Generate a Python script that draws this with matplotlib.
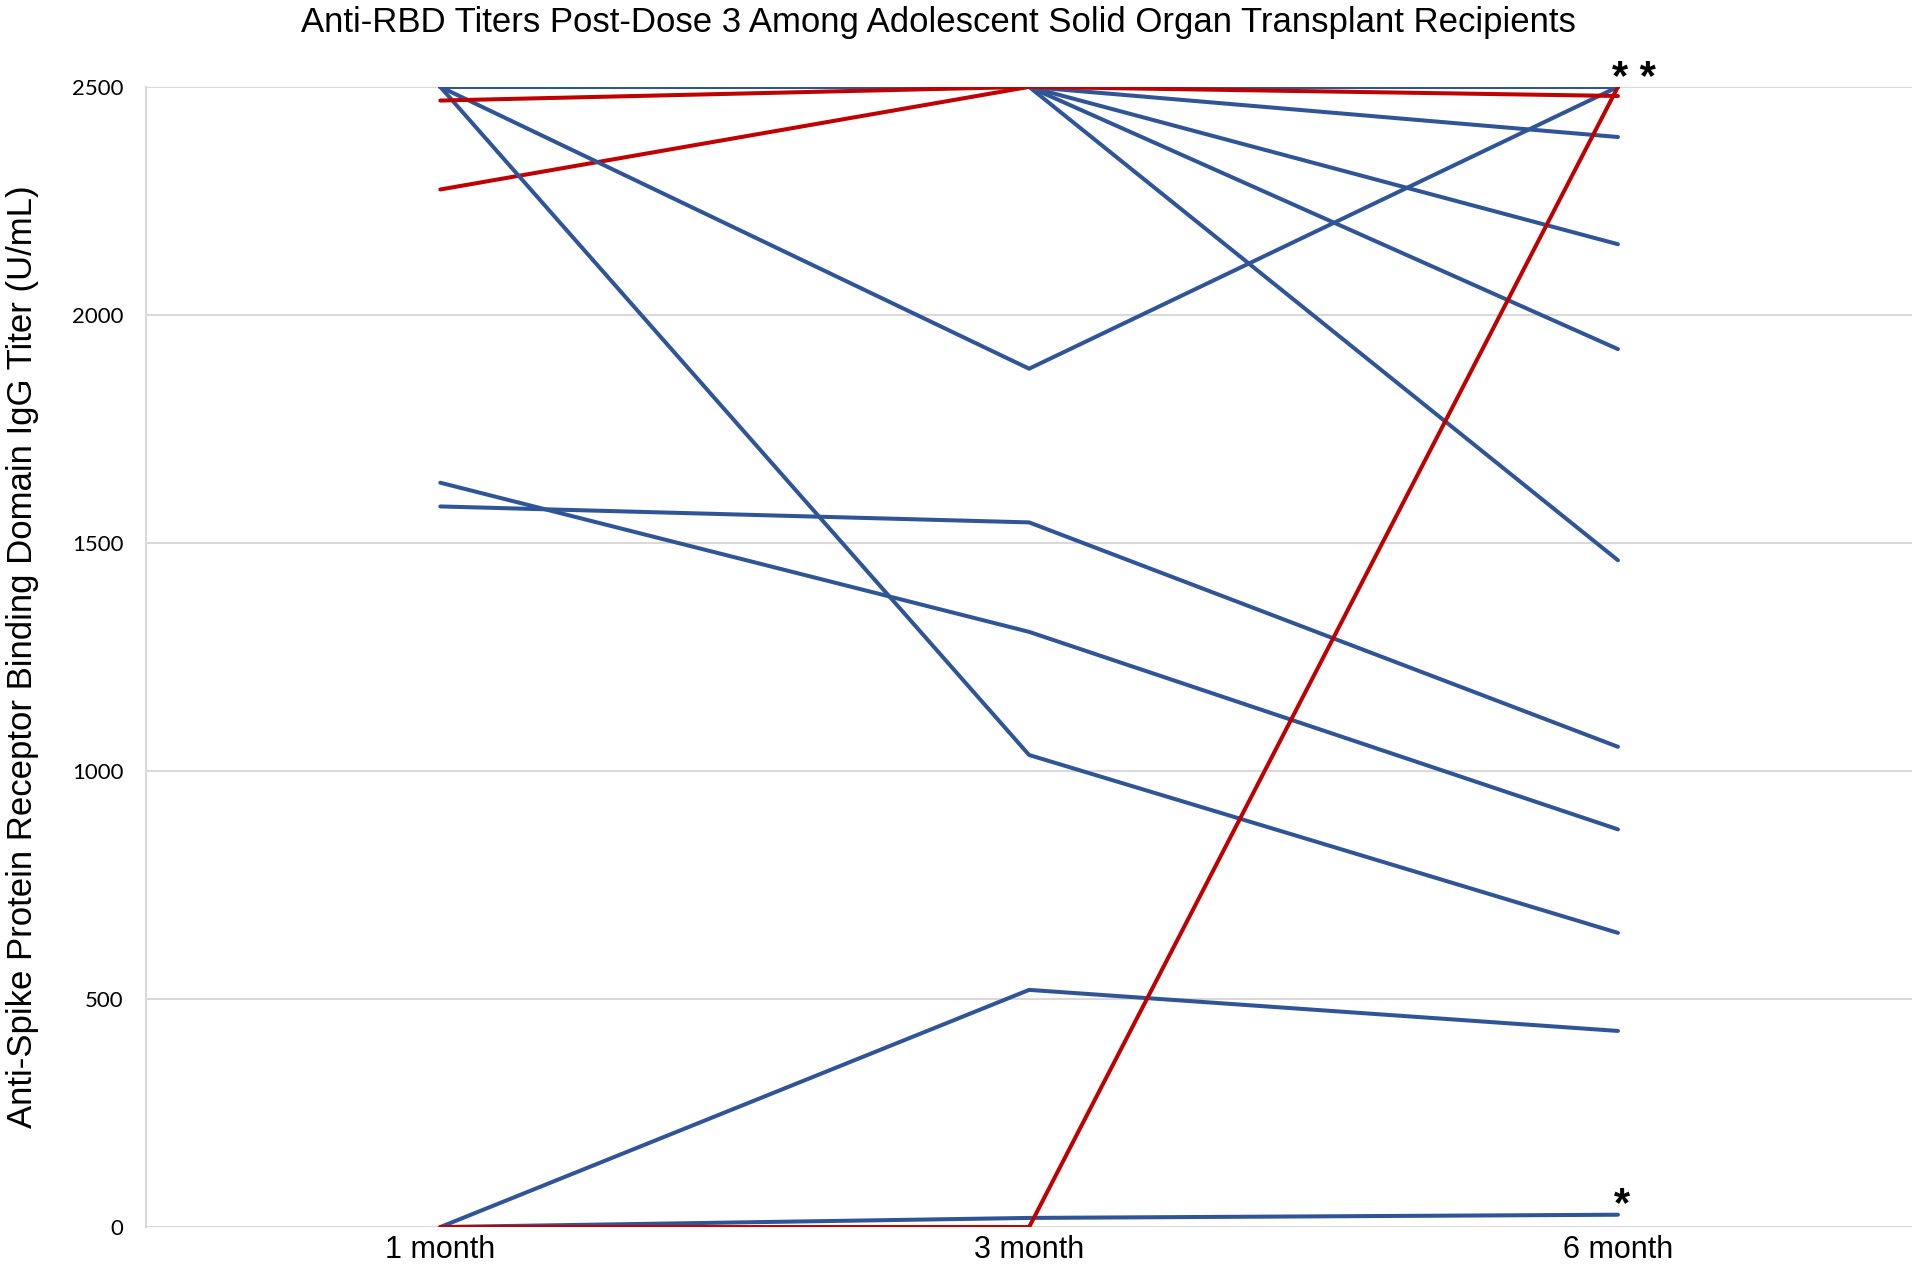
import matplotlib
matplotlib.use("Agg")
import matplotlib.pyplot as plt

# time points
timepoints = ["1 month", "3 month", "6 month"]

# titers per patient (U/mL) at 1, 3, 6 months
blue_series = [
    [2500, 2500, 2500],
    [2500, 2500, 2390],
    [2500, 2500, 2155],
    [2500, 2500, 1925],
    [2500, 2500, 1462],
    [2500, 1882, 2500],
    [2500, 1035, 645],
    [1632, 1305, 872],
    [1580, 1545, 1053],
    [0, 520, 430],
    [0, 20, 27],
]
red_series = [
    [2275, 2500, 2500],
    [2470, 2500, 2480],
    [0, 0, 2500],
]

BLUE = "#2F5597"
RED = "#C00000"

fig = plt.figure(figsize=(19.2, 12.68), dpi=100)
ax = fig.add_axes([0.076, 0.0323, 0.92, 0.8992])

x = list(range(len(timepoints)))
for vals in red_series[:1]:
    ax.plot(x, vals, color=RED, lw=2.9, solid_capstyle="round", zorder=2)
for vals in blue_series:
    ax.plot(x, vals, color=BLUE, lw=2.9, solid_capstyle="round", zorder=3)
for vals in red_series[1:]:
    ax.plot(x, vals, color=RED, lw=2.9, solid_capstyle="round", zorder=4)

ax.set_xlim(-0.5, 2.5)
ax.set_ylim(0, 2500)
ax.set_xticks(x)
ax.set_xticklabels(timepoints, family="Liberation Sans", fontsize=22)
ax.set_yticks([0, 500, 1000, 1500, 2000, 2500])
ax.set_yticklabels(["0", "500", "1000", "1500", "2000", "2500"], family="Lato", fontsize=16)
ax.tick_params(axis="both", length=0)
ax.tick_params(axis="y", pad=16)
ax.tick_params(axis="x", pad=6)

ax.grid(axis="y", color="#D9D9D9", lw=1.5, zorder=0)
ax.set_axisbelow(True)
for s in ["top", "right", "bottom"]:
    ax.spines[s].set_visible(False)
ax.spines["left"].set_color("#D9D9D9")
ax.spines["left"].set_linewidth(1.5)

ax.set_ylabel("Anti-Spike Protein Receptor Binding Domain IgG Titer (U/mL)",
              family="Liberation Sans", fontsize=25)
ax.yaxis.set_label_coords(-0.0606, 0.5)
fig.text(0.489, 0.9826, "Anti-RBD Titers Post-Dose 3 Among Adolescent Solid Organ Transplant Recipients",
         family="Liberation Sans", fontsize=25, ha="center", va="center")

ax.annotate("* *", xy=(2, 2500), xytext=(11.5, -2), textcoords="offset points",
            ha="center", va="baseline", fontsize=30, family="Liberation Sans",
            fontweight="bold", annotation_clip=False)
ax.annotate("*", xy=(2, 27), xytext=(3, -1), textcoords="offset points",
            ha="center", va="baseline", fontsize=30, family="Liberation Sans",
            fontweight="bold", annotation_clip=False)

fig.savefig("out.png", dpi=100)
